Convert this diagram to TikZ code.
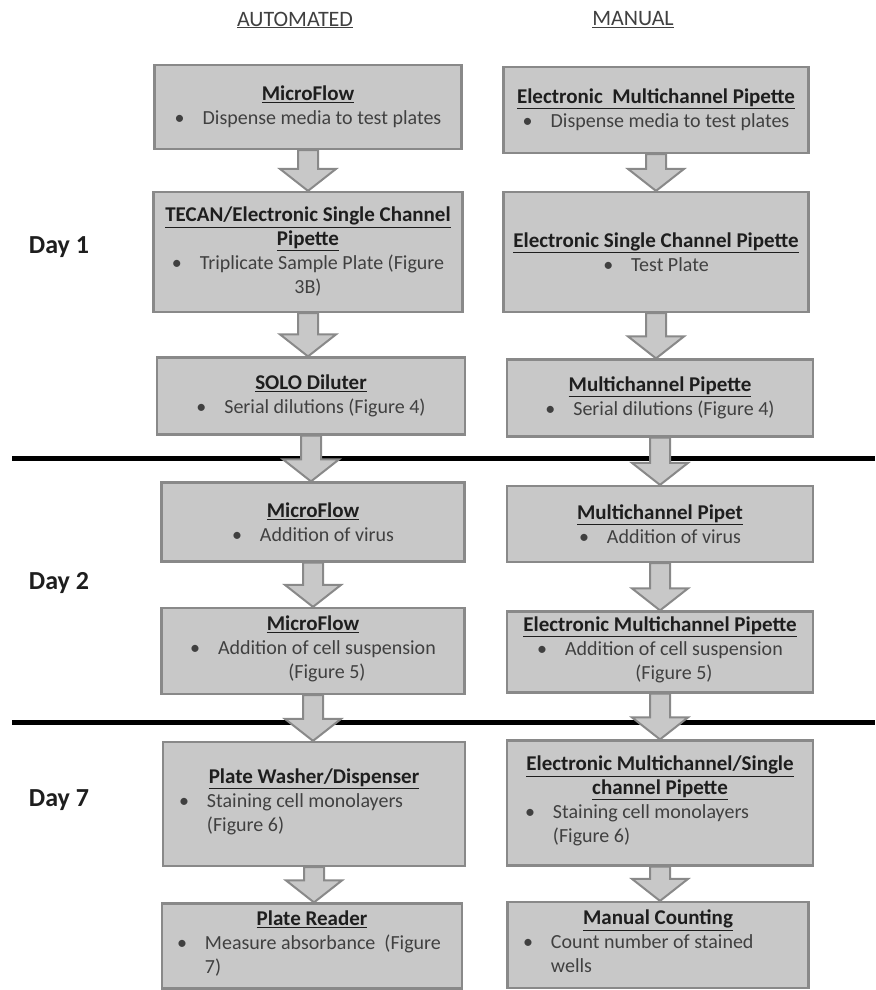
\documentclass[tikz,border=0pt]{standalone}
\usepackage{fontspec}
\setmainfont{Carlito}
\usepackage{xcolor}
\usepackage{tikz}
\usetikzlibrary{calc}
\definecolor{boxgray}{HTML}{C8C8C8}
\definecolor{edgegray}{HTML}{898989}
\definecolor{bodyink}{HTML}{404040}
\definecolor{titleink}{HTML}{1E1E1E}
\newcommand\ttl[1]{{\fontsize{21}{24}\selectfont\bfseries\color{titleink}\underline{#1}}}
\newcommand\bul{\textbullet\hspace{0.9em}}
\newcommand\lbul[1]{\makebox[290pt][l]{\hspace{10pt}\bul\begin{tabular}[t]{@{}l@{}}#1\end{tabular}}}
\newcommand\cbul[1]{\bul\begin{tabular}[t]{@{}c@{}}#1\end{tabular}}
\newcommand\stepdown[2]{%
  \filldraw[downarrow] let \p1=(#1.south), \p2=(#2.north) in
    (\x1-10pt,\y1) -- (\x1+10pt,\y1) -- (\x1+10pt,\y2+22pt) -- (\x1+28pt,\y2+22pt)
    -- (\x1,\y2) -- (\x1-28pt,\y2+22pt) -- (\x1-10pt,\y2+22pt) -- cycle;}

\begin{document}
\begin{tikzpicture}[x=1pt,y=-1pt,line join=miter,
    stage/.style={draw=edgegray,fill=boxgray,line width=2.2pt,inner sep=0pt,
      align=center,text=bodyink,font=\fontsize{20}{24}\selectfont},
    downarrow/.style={fill=boxgray,draw=edgegray,line width=2pt},
    colhead/.style={text=titleink!85,font=\fontsize{22}{26}\selectfont},
    daylabel/.style={text=titleink,font=\fontsize{26}{30}\selectfont\bfseries}]
  \useasboundingbox (0,0) rectangle (875,990);

  \node[colhead] (autohead) at (295,20) {\underline{AUTOMATED}};
  \node[colhead] (manhead) at (633,20) {\underline{MANUAL}};

  \node[daylabel] (day1) at (59,247) {Day 1};
  \node[daylabel] (day2) at (59,583) {Day 2};
  \node[daylabel] (day7) at (59,800) {Day 7};

  % day separators
  \draw[line width=5pt] (12,458) -- (875,458);
  \draw[line width=5pt] (12,722) -- (875,722);

  % automated column
  \node[stage,minimum width=307pt,minimum height=84pt] (auto1) at (308,107)
    {\ttl{MicroFlow}\\ \bul Dispense media to test plates};
  \node[stage,minimum width=309pt,minimum height=120pt] (auto2) at (308,252)
    {\ttl{TECAN/Electronic Single Channel}\\ \ttl{Pipette}\\
     \bul Triplicate Sample Plate (Figure\\ 3B)};
  \node[stage,minimum width=308pt,minimum height=77pt] (auto3) at (311,396)
    {\ttl{SOLO Diluter}\\ \bul Serial dilutions (Figure 4)};
  \node[stage,minimum width=303pt,minimum height=79pt] (auto4) at (313,522)
    {\ttl{MicroFlow}\\ \bul Addition of virus};
  \node[stage,minimum width=303pt,minimum height=86pt] (auto5) at (313,651)
    {\ttl{MicroFlow}\\ \cbul{Addition of cell suspension\\ (Figure 5)}};
  \node[stage,minimum width=302pt,minimum height=124pt] (auto6) at (314,804)
    {\ttl{Plate Washer/Dispenser}\\ \lbul{Staining cell monolayers\\ (Figure 6)}};
  \node[stage,minimum width=300pt,minimum height=85pt] (auto7) at (312,946)
    {\ttl{Plate Reader}\\ \lbul{Measure absorbance\ \ (Figure\\ 7)}};

  % manual column
  \node[stage,minimum width=305pt,minimum height=86pt] (man1) at (656,110)
    {\ttl{Electronic\ \ Multichannel Pipette}\\ \bul Dispense media to test plates};
  \node[stage,minimum width=305pt,minimum height=120pt] (man2) at (656,252)
    {\ttl{Electronic Single Channel Pipette}\\ \bul Test Plate};
  \node[stage,minimum width=306pt,minimum height=77pt] (man3) at (660,398)
    {\ttl{Multichannel Pipette}\\ \bul Serial dilutions (Figure 4)};
  \node[stage,minimum width=306pt,minimum height=76pt] (man4) at (660,524)
    {\ttl{Multichannel Pipet}\\ \bul Addition of virus};
  \node[stage,minimum width=306pt,minimum height=81pt] (man5) at (660,652)
    {\ttl{Electronic Multichannel Pipette}\\ \cbul{Addition of cell suspension\\ (Figure 5)}};
  \node[stage,minimum width=306pt,minimum height=125pt] (man6) at (660,803)
    {\ttl{Electronic Multichannel/Single}\\ \ttl{channel Pipette}\\
     \lbul{Staining cell monolayers\\ (Figure 6)}};
  \node[stage,minimum width=301pt,minimum height=86pt] (man7) at (658,945)
    {\ttl{Manual Counting}\\ \lbul{Count number of stained\\ wells}};

  \stepdown{auto1}{auto2}
  \stepdown{auto2}{auto3}
  \stepdown{auto3}{auto4}
  \stepdown{auto4}{auto5}
  \stepdown{auto5}{auto6}
  \stepdown{auto6}{auto7}
  \stepdown{man1}{man2}
  \stepdown{man2}{man3}
  \stepdown{man3}{man4}
  \stepdown{man4}{man5}
  \stepdown{man5}{man6}
  \stepdown{man6}{man7}
\end{tikzpicture}
\end{document}
